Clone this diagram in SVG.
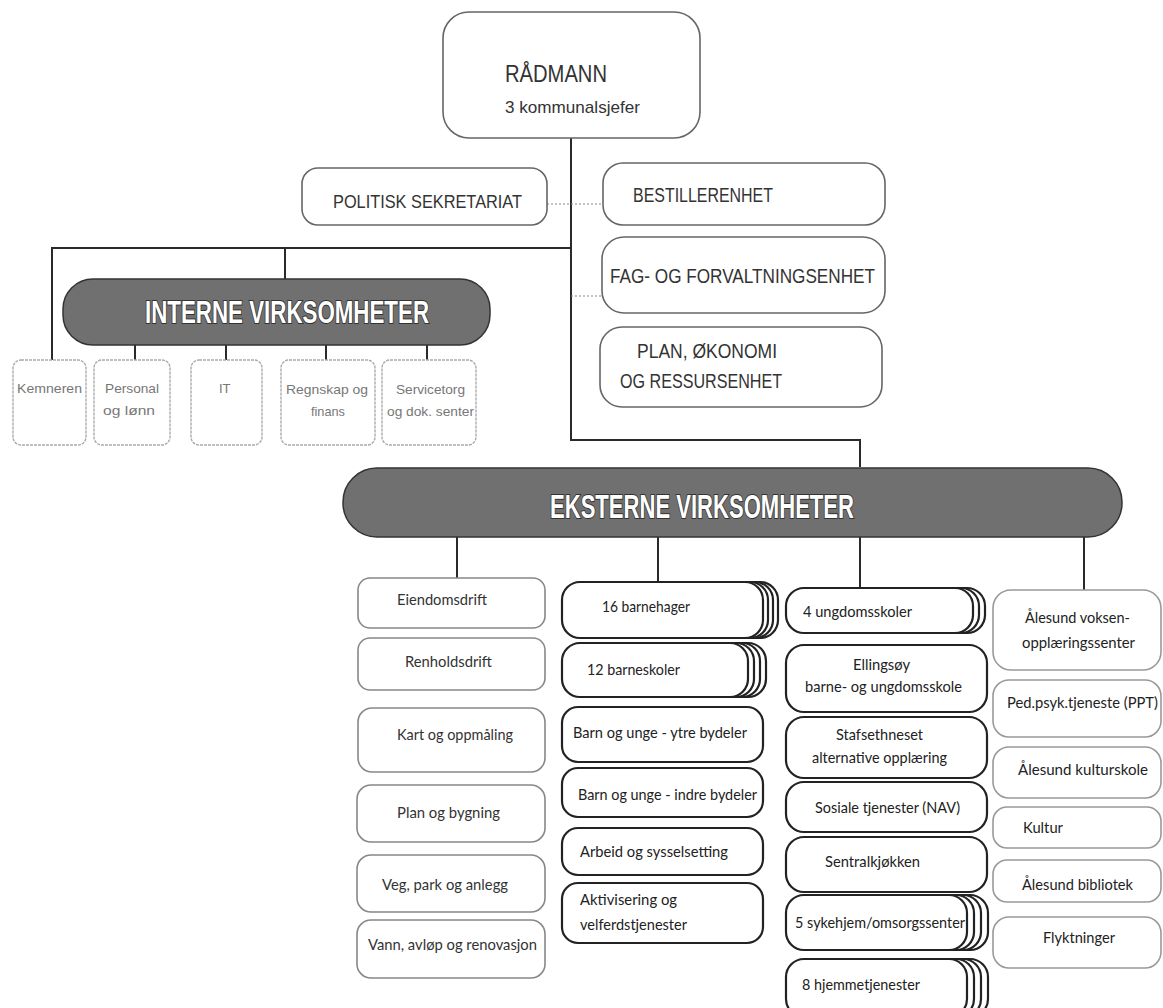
<svg xmlns="http://www.w3.org/2000/svg" width="1163" height="1008" viewBox="0 0 1163 1008">
<style>
.bg{fill:#ffffff}
.conn{stroke:#2a2a2a;stroke-width:2;fill:none}
.dot{stroke:#888;stroke-width:1.2;fill:none;stroke-dasharray:2 2}
.top{fill:#fff;stroke:#666;stroke-width:1.6}
.int{fill:#fff;stroke:#aaa;stroke-width:1.4;stroke-dasharray:3 1}
.c1{fill:#fff;stroke:#888;stroke-width:1.6}
.c2{fill:#fff;stroke:#222;stroke-width:2.2}
.c4{fill:#fff;stroke:#999;stroke-width:1.6}
.bar{fill:#707070;stroke:#333;stroke-width:1.5}
.tt{font-family:"Liberation Sans Narrow","Liberation Sans",Arial,sans-serif;fill:#333}
.bt{font-family:"Liberation Sans Narrow","Liberation Sans",Arial,sans-serif;font-weight:bold;fill:#fff;stroke:#333;stroke-width:2;paint-order:stroke}
.it{font-family:"Liberation Sans Narrow","Liberation Sans",Arial,sans-serif;fill:#777;font-size:13px}
.ct{font-family:Lato,"Open Sans",sans-serif;fill:#222;font-size:15px}
.cl{font-family:Lato,"Open Sans",sans-serif;fill:#333;font-size:15px}
</style>
<rect class="bg" x="0" y="0" width="1163" height="1008"/>

<g id="connectors">
  <path class="conn" d="M571 138 V440 H860 V467"/>
  <path class="conn" d="M571 248 H52 V360"/>
  <path class="conn" d="M285 248 V279"/>
  <path class="conn" d="M135 345 V360 M226 345 V360 M326 345 V360 M427 345 V360"/>
  <path class="conn" d="M457 537 V578 M658 537 V582 M860 537 V588 M1084 537 V590"/>
  <path class="dot" d="M547 204 H603"/>
  <path class="dot" d="M571 296 H602"/>
</g>

<g id="radmann">
  <rect class="top" x="443" y="12" width="257" height="126" rx="26" stroke="#555"/>
  <text class="tt" x="505" y="82" font-size="24" textLength="102" lengthAdjust="spacingAndGlyphs">RÅDMANN</text>
  <text class="tt" x="505" y="113" font-size="17" textLength="135" lengthAdjust="spacingAndGlyphs">3 kommunalsjefer</text>
</g>

<g id="politisk">
  <rect class="top" x="302" y="168" width="245" height="57" rx="16"/>
  <text class="tt" x="333" y="208" font-size="19" textLength="189" lengthAdjust="spacingAndGlyphs">POLITISK SEKRETARIAT</text>
</g>
<g id="bestiller">
  <rect class="top" x="603" y="163" width="282" height="62" rx="20"/>
  <text class="tt" x="633" y="202" font-size="20" textLength="140" lengthAdjust="spacingAndGlyphs">BESTILLERENHET</text>
</g>
<g id="fag">
  <rect class="top" x="602" y="237" width="283" height="76" rx="22" stroke="#555"/>
  <text class="tt" x="610" y="283" font-size="21" textLength="265" lengthAdjust="spacingAndGlyphs">FAG- OG FORVALTNINGSENHET</text>
</g>
<g id="plan">
  <rect class="top" x="600" y="327" width="282" height="80" rx="22"/>
  <text class="tt" x="637" y="358" font-size="20" textLength="140" lengthAdjust="spacingAndGlyphs">PLAN, ØKONOMI</text>
  <text class="tt" x="620" y="388" font-size="20" textLength="162" lengthAdjust="spacingAndGlyphs">OG RESSURSENHET</text>
</g>

<g id="interne">
  <rect class="bar" x="63" y="279" width="427" height="66" rx="30"/>
  <text class="bt" x="145" y="323" font-size="32" textLength="284" lengthAdjust="spacingAndGlyphs">INTERNE VIRKSOMHETER</text>
</g>
<g id="kemneren">
  <rect class="int" x="13" y="360" width="73" height="85" rx="8"/>
  <text class="it" x="17" y="393" textLength="65" lengthAdjust="spacingAndGlyphs">Kemneren</text>
</g>
<g id="personal">
  <rect class="int" x="94" y="360" width="76" height="85" rx="8"/>
  <text class="it" x="105" y="393" textLength="54" lengthAdjust="spacingAndGlyphs">Personal</text>
  <text class="it" x="103" y="415" textLength="52" lengthAdjust="spacingAndGlyphs">og lønn</text>
</g>
<g id="it">
  <rect class="int" x="191" y="360" width="71" height="85" rx="8"/>
  <text class="it" x="219" y="393">IT</text>
</g>
<g id="regnskap">
  <rect class="int" x="281" y="360" width="94" height="85" rx="8"/>
  <text class="it" x="286" y="394" textLength="82" lengthAdjust="spacingAndGlyphs">Regnskap og</text>
  <text class="it" x="311" y="416" textLength="34" lengthAdjust="spacingAndGlyphs">finans</text>
</g>
<g id="servicetorg">
  <rect class="int" x="382" y="360" width="94" height="85" rx="8"/>
  <text class="it" x="396" y="394" textLength="69" lengthAdjust="spacingAndGlyphs">Servicetorg</text>
  <text class="it" x="387" y="416" textLength="87" lengthAdjust="spacingAndGlyphs">og dok. senter</text>
</g>

<g id="eksterne">
  <rect class="bar" x="343" y="468" width="779" height="69" rx="34"/>
  <text class="bt" x="550" y="518" font-size="34" textLength="304" lengthAdjust="spacingAndGlyphs">EKSTERNE VIRKSOMHETER</text>
</g>

<!-- column 1 -->
<g id="eiendomsdrift">
  <rect class="c1" x="358" y="578" width="187" height="50" rx="12"/>
  <text class="cl" x="397" y="605" textLength="90" lengthAdjust="spacingAndGlyphs">Eiendomsdrift</text>
</g>
<g id="renholdsdrift">
  <rect class="c1" x="358" y="638" width="187" height="52" rx="12"/>
  <text class="cl" x="405" y="667" textLength="87" lengthAdjust="spacingAndGlyphs">Renholdsdrift</text>
</g>
<g id="kart">
  <rect class="c1" x="358" y="708" width="187" height="64" rx="14"/>
  <text class="cl" x="397" y="740" textLength="116" lengthAdjust="spacingAndGlyphs">Kart og oppmåling</text>
</g>
<g id="planbygning">
  <rect class="c1" x="357" y="785" width="188" height="57" rx="14"/>
  <text class="cl" x="397" y="818" textLength="103" lengthAdjust="spacingAndGlyphs">Plan og bygning</text>
</g>
<g id="veg">
  <rect class="c1" x="357" y="855" width="188" height="57" rx="14"/>
  <text class="cl" x="382" y="890" textLength="126" lengthAdjust="spacingAndGlyphs">Veg, park og anlegg</text>
</g>
<g id="vann">
  <rect class="c1" x="357" y="920" width="188" height="58" rx="14"/>
  <text class="cl" x="368" y="950" textLength="169" lengthAdjust="spacingAndGlyphs">Vann, avløp og renovasjon</text>
</g>

<!-- column 2 -->
<g id="barnehager">
  <rect class="c2" x="577" y="582" width="201" height="56" rx="18" stroke-width="1.2" stroke="#555"/>
  <rect class="c2" x="572" y="582" width="201" height="56" rx="18" stroke-width="1.2" stroke="#555"/>
  <rect class="c2" x="567" y="582" width="201" height="56" rx="18" stroke-width="1.2" stroke="#555"/>
  <rect class="c2" x="562" y="582" width="201" height="56" rx="18"/>
  <text class="ct" x="602" y="612" textLength="88" lengthAdjust="spacingAndGlyphs">16 barnehager</text>
</g>
<g id="barneskoler">
  <rect class="c2" x="580" y="643" width="186" height="54" rx="18" stroke-width="1.2" stroke="#555"/>
  <rect class="c2" x="574" y="643" width="186" height="54" rx="18" stroke-width="1.2" stroke="#555"/>
  <rect class="c2" x="568" y="643" width="186" height="54" rx="18" stroke-width="1.2" stroke="#555"/>
  <rect class="c2" x="562" y="643" width="186" height="54" rx="18"/>
  <text class="ct" x="587" y="675" textLength="93" lengthAdjust="spacingAndGlyphs">12 barneskoler</text>
</g>
<g id="ytre">
  <rect class="c2" x="562" y="707" width="201" height="55" rx="16"/>
  <text class="ct" x="573" y="738" textLength="174" lengthAdjust="spacingAndGlyphs">Barn og unge - ytre bydeler</text>
</g>
<g id="indre">
  <rect class="c2" x="562" y="768" width="201" height="49" rx="16"/>
  <text class="ct" x="578" y="800" textLength="179" lengthAdjust="spacingAndGlyphs">Barn og unge - indre bydeler</text>
</g>
<g id="arbeid">
  <rect class="c2" x="562" y="828" width="201" height="47" rx="16"/>
  <text class="ct" x="580" y="857" textLength="148" lengthAdjust="spacingAndGlyphs">Arbeid og sysselsetting</text>
</g>
<g id="aktivisering">
  <rect class="c2" x="562" y="883" width="201" height="60" rx="16"/>
  <text class="ct" x="580" y="905" textLength="97" lengthAdjust="spacingAndGlyphs">Aktivisering og</text>
  <text class="ct" x="580" y="930" textLength="107" lengthAdjust="spacingAndGlyphs">velferdstjenester</text>
</g>

<!-- column 3 -->
<g id="ungdomsskoler">
  <rect class="c2" x="798" y="588" width="187" height="45" rx="18" stroke-width="1.2" stroke="#555"/>
  <rect class="c2" x="792" y="588" width="187" height="45" rx="18" stroke-width="1.2" stroke="#555"/>
  <rect class="c2" x="786" y="588" width="187" height="45" rx="18"/>
  <text class="ct" x="803" y="617" textLength="109" lengthAdjust="spacingAndGlyphs">4 ungdomsskoler</text>
</g>
<g id="ellingsoy">
  <rect class="c2" x="786" y="645" width="201" height="67" rx="18" stroke="#444"/>
  <text class="ct" x="853" y="670" textLength="57" lengthAdjust="spacingAndGlyphs">Ellingsøy</text>
  <text class="ct" x="805" y="692" textLength="157" lengthAdjust="spacingAndGlyphs">barne- og ungdomsskole</text>
</g>
<g id="stafsethneset">
  <rect class="c2" x="786" y="717" width="201" height="61" rx="18"/>
  <text class="ct" x="836" y="740" textLength="87" lengthAdjust="spacingAndGlyphs">Stafsethneset</text>
  <text class="ct" x="812" y="763" textLength="135" lengthAdjust="spacingAndGlyphs">alternative opplæring</text>
</g>
<g id="nav">
  <rect class="c2" x="786" y="782" width="201" height="50" rx="18"/>
  <text class="ct" x="815" y="813" textLength="145" lengthAdjust="spacingAndGlyphs">Sosiale tjenester (NAV)</text>
</g>
<g id="sentralkjokken">
  <rect class="c2" x="786" y="837" width="201" height="55" rx="18"/>
  <text class="ct" x="825" y="867" textLength="95" lengthAdjust="spacingAndGlyphs">Sentralkjøkken</text>
</g>
<g id="sykehjem">
  <rect class="c2" x="807" y="895" width="181" height="55" rx="18" stroke-width="1.2" stroke="#555"/>
  <rect class="c2" x="800" y="895" width="181" height="55" rx="18" stroke-width="1.2" stroke="#555"/>
  <rect class="c2" x="793" y="895" width="181" height="55" rx="18" stroke-width="1.2" stroke="#555"/>
  <rect class="c2" x="786" y="895" width="181" height="55" rx="18"/>
  <text class="ct" x="795" y="928" textLength="170" lengthAdjust="spacingAndGlyphs">5 sykehjem/omsorgssenter</text>
</g>
<g id="hjemmetjenester">
  <rect class="c2" x="807" y="959" width="181" height="58" rx="18" stroke-width="1.2" stroke="#555"/>
  <rect class="c2" x="800" y="959" width="181" height="58" rx="18" stroke-width="1.2" stroke="#555"/>
  <rect class="c2" x="793" y="959" width="181" height="58" rx="18" stroke-width="1.2" stroke="#555"/>
  <rect class="c2" x="786" y="959" width="181" height="58" rx="18"/>
  <text class="ct" x="802" y="990" textLength="118" lengthAdjust="spacingAndGlyphs">8 hjemmetjenester</text>
</g>

<!-- column 4 -->
<g id="voksenopplaering">
  <rect class="c4" x="993" y="590" width="168" height="80" rx="18" stroke="#333" stroke-width="2"/>
  <text class="ct" x="1025" y="623" textLength="105" lengthAdjust="spacingAndGlyphs">Ålesund voksen-</text>
  <text class="ct" x="1022" y="648" textLength="113" lengthAdjust="spacingAndGlyphs">opplæringssenter</text>
</g>
<g id="ppt">
  <rect class="c4" x="993" y="680" width="168" height="57" rx="16"/>
  <text class="ct" x="1007" y="708" textLength="151" lengthAdjust="spacingAndGlyphs">Ped.psyk.tjeneste (PPT)</text>
</g>
<g id="kulturskole">
  <rect class="c4" x="993" y="747" width="168" height="51" rx="16" stroke="#555"/>
  <text class="ct" x="1018" y="775" textLength="130" lengthAdjust="spacingAndGlyphs">Ålesund kulturskole</text>
</g>
<g id="kultur">
  <rect class="c4" x="993" y="807" width="168" height="41" rx="14" stroke="#555"/>
  <text class="ct" x="1023" y="833" textLength="40" lengthAdjust="spacingAndGlyphs">Kultur</text>
</g>
<g id="bibliotek">
  <rect class="c4" x="993" y="860" width="168" height="42" rx="14" stroke="#777"/>
  <text class="ct" x="1022" y="890" textLength="111" lengthAdjust="spacingAndGlyphs">Ålesund bibliotek</text>
</g>
<g id="flyktninger">
  <rect class="c4" x="993" y="917" width="168" height="51" rx="16"/>
  <text class="ct" x="1043" y="943" textLength="72" lengthAdjust="spacingAndGlyphs">Flyktninger</text>
</g>
</svg>
